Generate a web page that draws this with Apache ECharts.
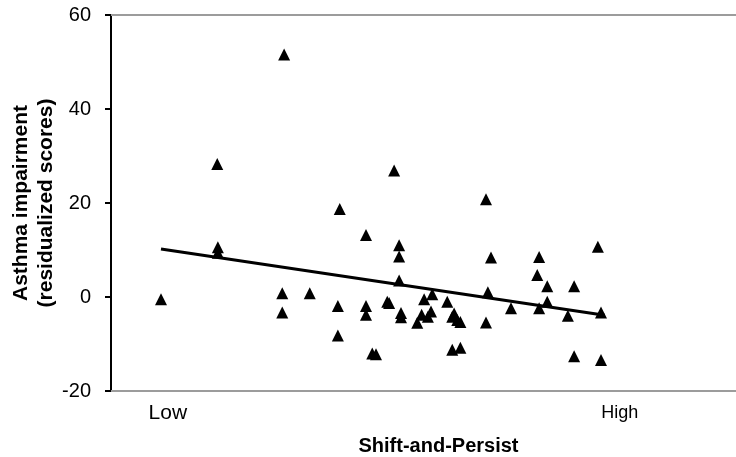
<!DOCTYPE html>
<html>
<head>
<meta charset="utf-8">
<script src="https://cdn.jsdelivr.net/npm/echarts@6/dist/echarts.min.js"></script>
<style>
html,body{margin:0;padding:0;background:#fff;}
#c{width:736px;height:457px;}
</style>
</head>
<body>
<div id="c"></div>
<script>
// Shift-and-Persist (arbitrary 0-100 scale, Low..High)
var pointX = [8.0, 17.0, 17.1, 17.1, 27.7, 27.4, 27.4, 31.8, 36.3, 36.3,
              36.6, 40.8, 40.8, 40.8, 41.8, 42.4, 44.2, 44.5, 45.3, 46.1,
              46.1, 46.1, 46.4, 46.4, 49.0, 49.7, 50.1, 50.7, 51.2, 51.4,
              53.8, 54.6, 54.9, 55.4, 55.9, 54.6, 55.9, 60.0, 60.8, 60.3,
              60.0, 64.0, 68.5, 68.2, 69.8, 69.8, 68.5, 73.1, 74.1, 74.1,
              77.9, 78.4, 78.4];
// Asthma impairment (residualized scores)
var pointY = [-0.5, 28.3, 10.6, 9.4, 51.6, 0.8, -3.3, 0.8, -1.9, -8.2,
              18.7, 13.2, -1.9, -3.8, -12.0, -12.2, -1.0, -1.3, 26.9, 11.0,
              8.6, 3.5, -3.4, -4.3, -5.5, -3.8, -0.5, -4.2, -3.1, 0.6,
              -1.0, -4.2, -3.5, -4.9, -5.3, -11.2, -10.8, 20.8, 8.4, 1.0,
              -5.4, -2.4, 8.5, 4.7, 2.3, -1.0, -2.4, -4.0, 2.3, -12.6,
              10.7, -3.3, -13.4];
// Regression line endpoints
var trendX = [8.0, 79.0];
var trendY = [10.2, -3.9];
// Axis tick labels
var xLabelValues = [9.1, 81.4];
var xLabelTexts = ['Low', 'High'];
var yTicks = [-20, 0, 20, 40, 60];

var FONT = 'Liberation Sans, Arial, Helvetica, sans-serif';
var scatterData = pointX.map(function (x, i) { return [x, pointY[i]]; });
var trendData = trendX.map(function (x, i) { return [x, trendY[i]]; });

var chart = echarts.init(document.getElementById('c'), null, {renderer: 'canvas'});
chart.setOption({
  animation: false,
  backgroundColor: '#ffffff',
  grid: {left: 111, right: 0, top: 15, bottom: 66, containLabel: false, outerBoundsMode: 'none'},
  xAxis: [{
    type: 'value', min: 0, max: 100, position: 'bottom',
    axisLine: {show: true, onZero: false, lineStyle: {color: '#9c9c9c', width: 2}},
    axisTick: {show: false},
    splitLine: {show: false},
    axisLabel: {
      customValues: xLabelValues,
      margin: 12,
      formatter: function (v) {
        var i = xLabelValues.indexOf(v);
        if (i < 0) return '';
        return i === 0 ? '{low|' + xLabelTexts[0] + '}' : '{high|' + xLabelTexts[1] + '}';
      },
      rich: {
        low: {fontSize: 21, fontFamily: FONT, color: '#000'},
        high: {fontSize: 18, fontFamily: FONT, color: '#000', padding: [1, 0, 0, 0]}
      }
    },
    name: 'Shift-and-Persist',
    nameLocation: 'middle',
    nameGap: 45,
    nameTextStyle: {fontSize: 20, fontWeight: 'bold', fontFamily: FONT, color: '#000', padding: [0, 0, 0, 30]}
  }, {
    type: 'value', min: 0, max: 100, position: 'top',
    axisLine: {show: true, onZero: false, lineStyle: {color: '#9c9c9c', width: 2}},
    axisTick: {show: false}, axisLabel: {show: false}, splitLine: {show: false}
  }],
  yAxis: {
    type: 'value', min: yTicks[0], max: yTicks[yTicks.length - 1], interval: 20,
    axisLine: {show: true, onZero: false, lineStyle: {color: '#000', width: 2}},
    axisTick: {show: true, length: 6, lineStyle: {color: '#000', width: 2}},
    splitLine: {show: false},
    axisLabel: {fontSize: 20, fontFamily: FONT, color: '#000', margin: 20},
    name: 'Asthma impairment\n(residualized scores)',
    nameLocation: 'middle',
    nameRotate: 90,
    nameGap: 52,
    nameMoveOverlap: false,
    nameTextStyle: {fontSize: 21, fontWeight: 'bold', fontFamily: FONT, color: '#000', lineHeight: 25}
  },
  series: [{
    type: 'scatter',
    data: scatterData,
    symbol: 'triangle',
    symbolSize: 12,
    itemStyle: {color: '#000', opacity: 1},
    z: 3
  }, {
    type: 'line',
    data: trendData,
    showSymbol: false,
    lineStyle: {color: '#000', width: 3},
    z: 4
  }]
});
</script>
</body>
</html>
